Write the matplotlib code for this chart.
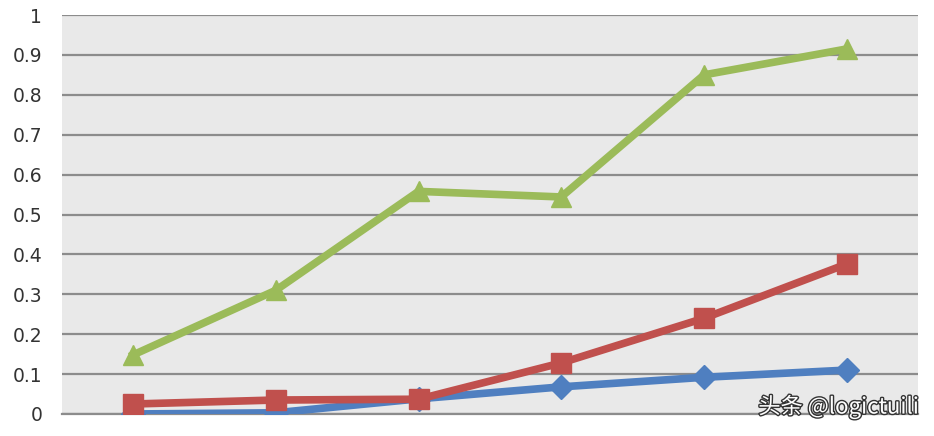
import numpy as np
import matplotlib.pyplot as plt
import matplotlib.patheffects as pe

plt.rcParams['font.family'] = ['DejaVu Sans']

# data
cats = ["1", "2", "3", "4", "5", "6"]
blue = [0.0, 0.003, 0.038, 0.068, 0.092, 0.11]
red = [0.025, 0.035, 0.037, 0.128, 0.24, 0.376]
green = [0.148, 0.31, 0.558, 0.544, 0.85, 0.915]
yticks = [0, 0.1, 0.2, 0.3, 0.4, 0.5, 0.6, 0.7, 0.8, 0.9, 1]
ylabels = ["0", "0.1", "0.2", "0.3", "0.4", "0.5", "0.6", "0.7", "0.8", "0.9", "1"]

fig = plt.figure(figsize=(9.34, 4.36), dpi=100)
ax = fig.add_axes([0.066, 0.0505, 0.917, 0.915])
ax.set_facecolor("#e9e9e9")

x = np.arange(len(cats)) + 0.5
ax.plot(x, blue, color="#4f7fc0", lw=5.5, marker="D", ms=12, zorder=3)
ax.plot(x, red, color="#c0504d", lw=5.5, marker="s", ms=14, zorder=4)
ax.plot(x, green, color="#9bbb59", lw=5.5, marker="^", ms=15, zorder=5)

ax.set_xlim(0, 6)
ax.set_ylim(0, 1)
ax.set_yticks(yticks)
ax.set_yticklabels(ylabels, fontsize=13.5, color="#333333")
ax.set_xticks([])
ax.grid(axis="y", color="#8c8c8c", lw=1.6, zorder=1)
ax.set_axisbelow(True)
for s in ["top", "right", "left"]:
    ax.spines[s].set_visible(False)
ax.spines["bottom"].set_color("#8c8c8c")
ax.spines["bottom"].set_linewidth(1.6)
ax.tick_params(axis="y", length=0, pad=14)

fig.text(0.984, 0.04, "头条 @logictuili", ha="right", va="bottom", fontsize=16,
         family=["Noto Sans CJK SC", "DejaVu Sans"], color="white",
         path_effects=[pe.withStroke(linewidth=2, foreground="#333333")])

fig.savefig("out.png", dpi=100)
